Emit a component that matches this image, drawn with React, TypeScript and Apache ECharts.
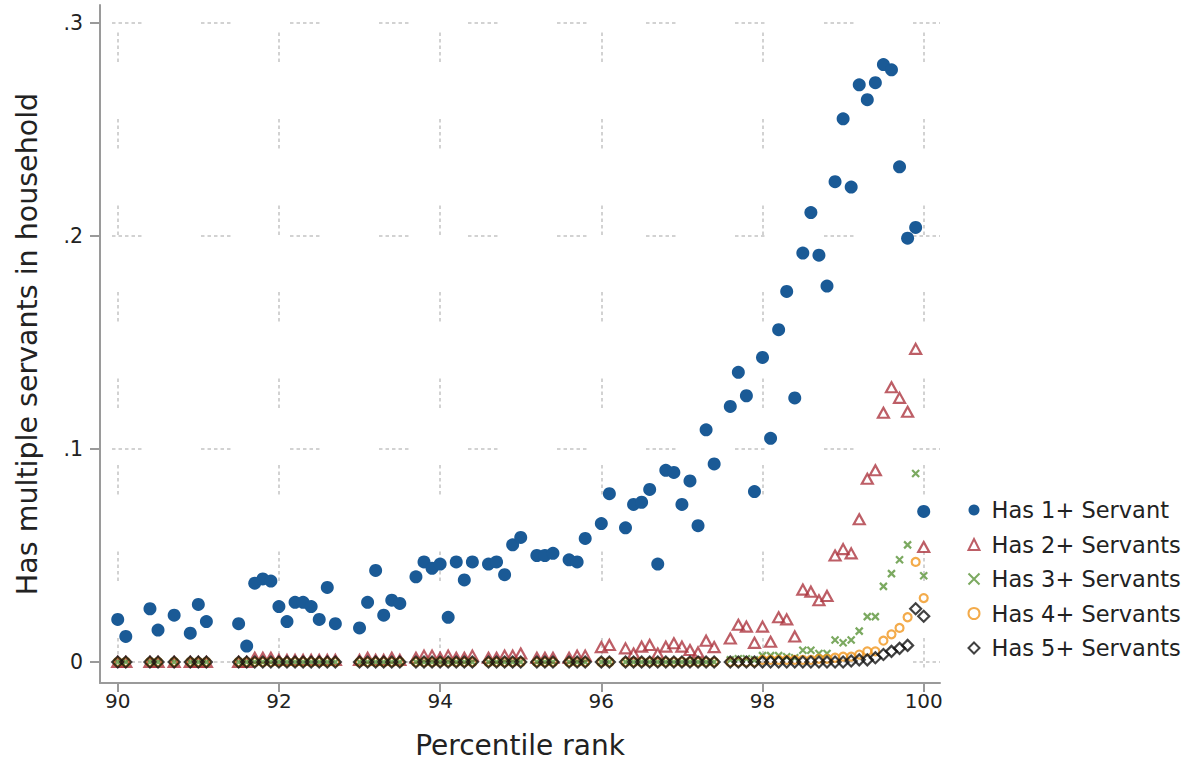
import React, { useEffect, useRef } from "react";
import * as echarts from "echarts";

const FONT = "DejaVu Sans";

const X = [
  90.0, 90.1, 90.4, 90.5, 90.7, 90.9, 91.0, 91.1, 91.5, 91.6,
  91.7, 91.8, 91.9, 92.0, 92.1, 92.2, 92.3, 92.4, 92.5, 92.6,
  92.7, 93.0, 93.1, 93.2, 93.3, 93.4, 93.5, 93.7, 93.8, 93.9,
  94.0, 94.1, 94.2, 94.3, 94.4, 94.6, 94.7, 94.8, 94.9, 95.0,
  95.2, 95.3, 95.4, 95.6, 95.7, 95.8, 96.0, 96.1, 96.3, 96.4,
  96.5, 96.6, 96.7, 96.8, 96.9, 97.0, 97.1, 97.2, 97.3, 97.4,
  97.6, 97.7, 97.8, 97.9, 98.0, 98.1, 98.2, 98.3, 98.4, 98.5,
  98.6, 98.7, 98.8, 98.9, 99.0, 99.1, 99.2, 99.3, 99.4, 99.5,
  99.6, 99.7, 99.8, 99.9, 100.0,
];

const S1 = [
  0.020, 0.012, 0.025, 0.015, 0.022, 0.0135, 0.027, 0.019, 0.018, 0.0075,
  0.037, 0.039, 0.038, 0.026, 0.019, 0.028, 0.028, 0.026, 0.020, 0.035,
  0.018, 0.016, 0.028, 0.043, 0.022, 0.029, 0.0275, 0.040, 0.047, 0.044,
  0.046, 0.021, 0.047, 0.0385, 0.047, 0.046, 0.047, 0.041, 0.055, 0.0585,
  0.050, 0.050, 0.051, 0.048, 0.047, 0.058, 0.065, 0.079, 0.063, 0.074,
  0.075, 0.081, 0.046, 0.090, 0.089, 0.074, 0.085, 0.064, 0.109, 0.093,
  0.120, 0.136, 0.125, 0.080, 0.143, 0.105, 0.156, 0.174, 0.124, 0.192,
  0.211, 0.191, 0.1765, 0.2255, 0.255, 0.223, 0.271, 0.264, 0.272, 0.2805,
  0.278, 0.2325, 0.199, 0.204, 0.0707,
];

const S2 = [
  0, 0, 0, 0, 0, 0, 0, 0, 0, 0,
  0.002, 0.002, 0.002, 0.001, 0.001, 0.001, 0.001, 0.001, 0.001, 0.001,
  0.001, 0.001, 0.002, 0.001, 0.001, 0.002, 0.001, 0.002, 0.003, 0.003,
  0.002, 0.003, 0.002, 0.002, 0.003, 0.002, 0.002, 0.003, 0.003, 0.004,
  0.002, 0.002, 0.002, 0.002, 0.003, 0.003, 0.007, 0.008, 0.0064, 0.004,
  0.0072, 0.008, 0.004, 0.0072, 0.0088, 0.0072, 0.0056, 0.0045, 0.010, 0.007,
  0.011, 0.0175, 0.0166, 0.009, 0.0166, 0.0095, 0.021, 0.020, 0.012, 0.034,
  0.033, 0.029, 0.031, 0.050, 0.053, 0.051, 0.067, 0.086, 0.090, 0.117,
  0.129, 0.124, 0.1175, 0.147, 0.054,
];

const S3 = [
  0, 0, 0, 0, 0, 0, 0, 0, 0, 0,
  0, 0, 0, 0, 0, 0, 0, 0, 0, 0,
  0, 0, 0, 0, 0, 0, 0, 0, 0, 0,
  0, 0, 0, 0, 0, 0, 0, 0, 0, 0,
  0, 0, 0, 0, 0, 0, 0, 0, 0, 0,
  0, 0, 0, 0, 0, 0, 0, 0, 0, 0,
  0.001, 0.0015, 0.0015, 0.001, 0.003, 0.003, 0.003, 0.0025, 0.002, 0.0055,
  0.0055, 0.004, 0.004, 0.0103, 0.009, 0.0103, 0.0145, 0.0213, 0.0213, 0.0355,
  0.0415, 0.048, 0.055, 0.0885, 0.0405,
];

const S4 = [
  0, 0, 0, 0, 0, 0, 0, 0, 0, 0,
  0, 0, 0, 0, 0, 0, 0, 0, 0, 0,
  0, 0, 0, 0, 0, 0, 0, 0, 0, 0,
  0, 0, 0, 0, 0, 0, 0, 0, 0, 0,
  0, 0, 0, 0, 0, 0, 0, 0, 0, 0,
  0, 0, 0, 0, 0, 0, 0, 0, 0, 0,
  0, 0, 0, 0, 0.001, 0.001, 0.001, 0.001, 0.001, 0.001,
  0.001, 0.0015, 0.0015, 0.002, 0.0025, 0.0025, 0.0035, 0.005, 0.005, 0.010,
  0.013, 0.016, 0.021, 0.047, 0.030,
];

const S5 = [
  0, 0, 0, 0, 0, 0, 0, 0, 0, 0,
  0, 0, 0, 0, 0, 0, 0, 0, 0, 0,
  0, 0, 0, 0, 0, 0, 0, 0, 0, 0,
  0, 0, 0, 0, 0, 0, 0, 0, 0, 0,
  0, 0, 0, 0, 0, 0, 0, 0, 0, 0,
  0, 0, 0, 0, 0, 0, 0, 0, 0, 0,
  0, 0, 0, 0, 0, 0, 0, 0, 0, 0,
  0, 0, 0, 0, 0, 0.0005, 0.001, 0.001, 0.002, 0.0035,
  0.005, 0.0064, 0.0078, 0.025, 0.0215,
];

const SERIES_NAMES = [
  "Has 1+ Servant",
  "Has 2+ Servants",
  "Has 3+ Servants",
  "Has 4+ Servants",
  "Has 5+ Servants",
];

const X_TICKS = [90, 92, 94, 96, 98, 100];
const Y_TICKS = [0, 0.1, 0.2, 0.3];

const X_TITLE = "Percentile rank";
const Y_TITLE = "Has multiple servants in household";

const BLUE = "#1a5a96";
const RED = "#ad3640";
const GREEN = "#5a9438";
const ORANGE = "#f0961e";
const BLACK = "#111111";

const pair = (ys: number[]) => X.map((x, i) => [x, ys[i]]);

export default function App() {
  const ref = useRef<HTMLDivElement>(null);

  useEffect(() => {
    if (!ref.current) return;
    const chart = echarts.init(ref.current, null, { renderer: "svg" });

    const axisColor = "#9a9a9a";
    const gridColor = "#c4c4c4";

    const option = {
      animation: false,
      backgroundColor: "#ffffff",
      grid: { left: 100, right: 256, top: 5, bottom: 82, containLabel: false },
      xAxis: {
        type: "value",
        min: 89.78,
        max: 100.202,
        name: X_TITLE,
        nameLocation: "middle",
        nameGap: 48,
        nameTextStyle: { fontFamily: FONT, fontSize: 28, color: "#222" },
        axisLine: { show: true, onZero: false, lineStyle: { color: axisColor, width: 2 } },
        axisTick: {
          show: true,
          length: 9,
          customValues: X_TICKS,
          lineStyle: { color: axisColor, width: 2 },
        },
        axisLabel: {
          customValues: X_TICKS,
          margin: 8,
          fontFamily: FONT,
          fontSize: 20,
          color: "#222",
          formatter: (v: number) => String(v),
        },
        splitLine: {
          show: true,
          lineStyle: {
            color: gridColor,
            width: 1.5,
            type: [3.5, 3, 3.5, 3, 3.5, 3, 3.5, 3, 3.5, 57],
            dashOffset: 59,
          },
        },
      },
      yAxis: {
        type: "value",
        min: -0.00986,
        max: 0.30845,
        name: Y_TITLE,
        nameLocation: "middle",
        nameGap: 58,
        nameTextStyle: { fontFamily: FONT, fontSize: 28.5, color: "#222" },
        axisLine: { show: true, onZero: false, lineStyle: { color: axisColor, width: 2 } },
        axisTick: {
          show: true,
          length: 10,
          customValues: Y_TICKS,
          lineStyle: { color: axisColor, width: 2 },
        },
        axisLabel: {
          customValues: Y_TICKS,
          margin: 17,
          fontFamily: FONT,
          fontSize: 20.5,
          color: "#222",
          formatter: (v: number) => (v === 0 ? "0" : String(v).replace(/^0/, "")),
        },
        splitLine: {
          show: true,
          lineStyle: {
            color: gridColor,
            width: 1.5,
            type: [3.5, 3, 3.5, 3, 3.5, 3, 3.5, 3, 3.5, 59.5],
            dashOffset: 77,
          },
        },
      },
      legend: {
        orient: "vertical",
        left: 962.5,
        top: 493,
        itemWidth: 11,
        itemHeight: 11,
        itemGap: 10.5,
        textStyle: {
          fontFamily: FONT,
          fontSize: 22.5,
          color: "#222",
          lineHeight: 24,
          padding: [0, 0, 0, 7],
        },
        data: SERIES_NAMES,
      },
      series: [
        {
          name: SERIES_NAMES[0],
          type: "scatter",
          data: pair(S1),
          symbol: "circle",
          symbolSize: 13,
          itemStyle: { color: BLUE, opacity: 1 },
        },
        {
          name: SERIES_NAMES[1],
          type: "scatter",
          data: pair(S2),
          symbol: "triangle",
          symbolSize: [11, 10],
          itemStyle: { color: "rgba(255,255,255,0)", borderColor: RED, borderWidth: 2.2 },
        },
        {
          name: SERIES_NAMES[2],
          type: "scatter",
          data: pair(S3),
          symbol: "path://M0,0L10,10M10,0L0,10",
          symbolSize: 7,
          itemStyle: { color: "rgba(255,255,255,0)", borderColor: GREEN, borderWidth: 2.2 },
        },
        {
          name: SERIES_NAMES[3],
          type: "scatter",
          data: pair(S4),
          symbol: "circle",
          symbolSize: 8,
          itemStyle: { color: "rgba(255,255,255,0)", borderColor: ORANGE, borderWidth: 2.2 },
        },
        {
          name: SERIES_NAMES[4],
          type: "scatter",
          data: pair(S5),
          symbol: "diamond",
          symbolSize: [11, 11],
          itemStyle: { color: "rgba(255,255,255,0)", borderColor: BLACK, borderWidth: 2.2 },
        },
      ],
    };

    chart.setOption(option as any);
    return () => chart.dispose();
  }, []);

  return (
    <div
      ref={ref}
      style={{ position: "fixed", left: 0, top: 0, width: 1196, height: 765 }}
    />
  );
}
